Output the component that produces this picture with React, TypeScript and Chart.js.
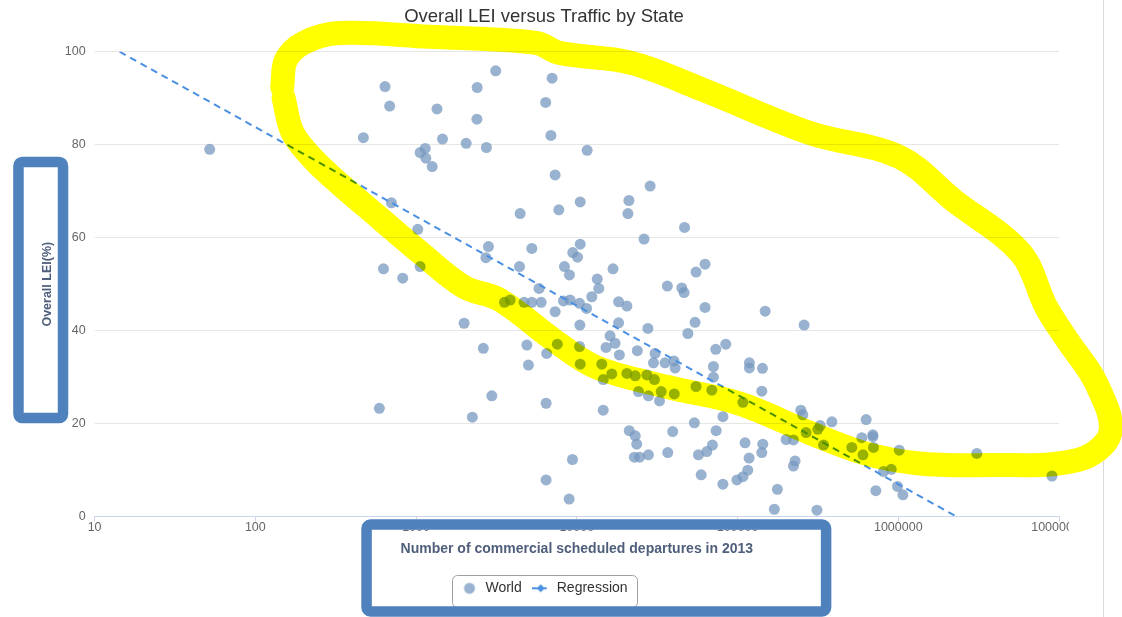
import React, { useEffect, useRef } from "react";
import { Chart, registerables } from "chart.js";

Chart.register(...registerables);

const CHART_TITLE = "Overall LEI versus Traffic by State";
const X_AXIS_TITLE = "Number of commercial scheduled departures in 2013";
const Y_AXIS_TITLE = "Overall LEI(%)";
const SERIES_WORLD = "World";
const SERIES_REGRESSION = "Regression";

const X_TICKS = [10, 100, 1000, 10000, 100000, 1000000, 10000000];
const Y_TICKS = [0, 20, 40, 60, 80, 100];

// World: commercial scheduled departures (2013) per State
const departures = [
  52, 470, 641, 685, 703, 1025, 627, 826, 1060, 1060,
  1140, 1150, 1260, 1350, 1460, 2050, 2400, 2390, 2740, 3130,
  2820, 2720, 4440, 5250, 4400, 5820, 7020, 6400, 6900, 7330,
  7730, 8380, 9000, 9440, 10100, 10500, 10500, 11600, 28600, 21100,
  20800, 26200, 46800, 16800, 13400, 13700, 12400, 62800, 55200, 36600,
  45000, 46500, 3550, 3850, 4700, 5250, 6000, 7330, 8260, 9080,
  10400, 11500, 18200, 20500, 62800, 148600, 1990, 2620, 10450, 18200,
  27700, 54400, 49100, 259500, 16100, 17300, 15200, 23800, 18400, 30700,
  30000, 35400, 40200, 40900, 4890, 5000, 6500, 7570, 10400, 10500,
  14300, 84500, 73200, 70800, 118500, 118500, 142900, 591, 2240, 2960,
  6440, 6440, 9400, 8960, 14600, 14600, 16500, 20500, 23100, 27300,
  30400, 24200, 27900, 32700, 33500, 40400, 55200, 69200, 108000, 81100,
  70800, 141600, 53900, 39500, 73600, 21200, 23100, 23600, 22800, 24600,
  27900, 36800, 57100, 64400, 69800, 111400, 143600, 141600, 118000, 115800,
  108000, 99100, 59400, 81100, 177000, 169500, 247700, 254800, 326600, 386300,
  631000, 593000, 695000, 695000, 701000, 514000, 603000, 342700, 316000, 267000,
  200600, 222700, 228000, 222700, 312000, 725000, 1014000, 989000, 1069000, 809000,
  904000, 3080000, 9040000,
];

// World: Overall LEI (%) per State
const lei = [
  79.0, 81.5, 92.5, 88.3, 67.5, 61.8, 53.3, 51.3, 53.8, 78.3,
  79.2, 77.1, 75.3, 87.7, 81.2, 80.3, 92.3, 85.5, 79.4, 95.9,
  58.1, 55.7, 65.2, 57.7, 53.8, 49.1, 94.3, 89.1, 82.0, 73.5,
  66.0, 53.8, 52.0, 56.8, 55.8, 58.6, 67.7, 78.8, 71.1, 68.0,
  65.2, 59.7, 62.2, 53.3, 51.1, 49.1, 47.3, 54.3, 52.6, 49.6,
  49.2, 48.2, 46.1, 46.6, 46.1, 46.1, 46.1, 44.1, 46.4, 46.6,
  45.9, 44.8, 46.2, 45.3, 45.0, 44.2, 41.6, 36.2, 41.2, 41.7,
  40.5, 41.8, 39.4, 41.2, 38.9, 37.3, 36.4, 35.7, 34.8, 35.1,
  33.1, 33.1, 33.5, 32.0, 36.9, 32.6, 35.1, 37.1, 36.6, 32.8,
  32.8, 37.1, 36.0, 32.3, 33.1, 32.0, 31.9, 23.3, 21.4, 26.0,
  24.4, 7.9, 12.3, 3.8, 22.9, 29.5, 30.7, 30.8, 30.3, 30.5,
  29.5, 26.9, 26.0, 24.9, 26.9, 26.4, 28.0, 27.2, 24.6, 21.5,
  30.0, 27.0, 20.2, 18.3, 18.5, 18.5, 17.4, 15.6, 12.8, 12.8,
  13.3, 13.8, 13.3, 14.0, 15.4, 15.9, 15.6, 13.8, 12.6, 10.0,
  8.6, 7.9, 9.0, 7.0, 5.9, 1.6, 22.9, 21.9, 19.6, 20.4,
  20.9, 17.0, 17.6, 17.2, 14.9, 14.9, 13.3, 15.4, 18.8, 18.1,
  16.6, 16.5, 12.0, 10.9, 1.4, 5.6, 14.3, 6.5, 4.7, 9.7,
  10.2, 13.6, 8.75,
];

// Regression line end points
const regressionDepartures = [14.3, 2310000];
const regressionLei = [100, 0];

// Hand-drawn yellow highlight loop, in data coordinates
const highlightDepartures = [
  147, 155, 200, 332, 1200, 5560, 7870, 21800, 61100, 283000,
  1014000, 2200000, 5790000, 8320000, 11250000, 16980000, 20840000, 13180000, 3660000, 1310000,
  610000, 283000, 101600, 36500, 13100, 7180, 3330, 1990, 1070, 585,
  352, 232, 171, 150,
];
const highlightLei = [
  92.4, 98.2, 101.9, 104.0, 103.2, 101.9, 99.7, 97.6, 91.8, 82.5,
  77.4, 68.1, 56.7, 45.1, 38.0, 28.8, 18.0, 12.2, 11.1, 11.5,
  13.7, 18.0, 24.4, 27.9, 32.2, 38.0, 46.6, 49.4, 56.7, 64.4,
  70.9, 76.7, 82.5, 90.0,
];

// Hand-drawn blue frames, in data coordinates
const frameXMin = [3.36, 492];
const frameXMax = [6.36, 355600];
const frameYMin = [21.2, -20.4];
const frameYMax = [76.3, -1.7];

const FONT = "'Liberation Sans', Arial, Helvetica, sans-serif";
const POINT_COLOR = "rgba(119, 152, 191, 0.75)";
const LINE_COLOR = "#4a90e2";
const HIGHLIGHT_COLOR = "#ffff00";
const FRAME_COLOR = "#4f81bd";
const FRAME_WIDTH = 10.5;
const HIGHLIGHT_INDEX = 2;
const CANVAS_W = 1114;
const CANVAS_H = 609;
// original chart container ends here; axis labels beyond it are cut off
const CONTAINER_RIGHT = 1061;

function makeCircleMarker(): HTMLCanvasElement {
  const c = document.createElement("canvas");
  c.width = 18;
  c.height = 14;
  const g = c.getContext("2d")!;
  g.fillStyle = POINT_COLOR;
  g.beginPath();
  g.arc(9, 7, 5.5, 0, Math.PI * 2);
  g.fill();
  return c;
}

function makeLineMarker(): HTMLCanvasElement {
  const c = document.createElement("canvas");
  c.width = 18;
  c.height = 14;
  const g = c.getContext("2d")!;
  g.strokeStyle = LINE_COLOR;
  g.lineWidth = 2;
  g.setLineDash([6, 3]);
  g.beginPath();
  g.moveTo(0, 7);
  g.lineTo(18, 7);
  g.stroke();
  g.setLineDash([]);
  g.fillStyle = LINE_COLOR;
  g.beginPath();
  g.moveTo(9, 3);
  g.lineTo(13, 7);
  g.lineTo(9, 11);
  g.lineTo(5, 7);
  g.closePath();
  g.fill();
  return c;
}

const clipLabelsPlugin = {
  id: "clipLabels",
  beforeDatasetsDraw(chart: any) {
    const xs = chart.scales.x;
    chart.ctx.clearRect(CONTAINER_RIGHT, xs.top + 1, chart.width - CONTAINER_RIGHT, xs.bottom - xs.top);
  },
};

const multiplyPlugin = {
  id: "multiplyHighlight",
  beforeDatasetDraw(chart: any, args: any) {
    if (args.index === HIGHLIGHT_INDEX) {
      chart.ctx.save();
      chart.ctx.globalCompositeOperation = "multiply";
    }
  },
  afterDatasetDraw(chart: any, args: any) {
    if (args.index === HIGHLIGHT_INDEX) {
      chart.ctx.restore();
    }
  },
};

const overlayPlugin = {
  id: "overlayFrames",
  afterDraw(chart: any) {
    const ctx = chart.ctx as CanvasRenderingContext2D;
    const hb = chart.legend && chart.legend.legendHitBoxes;
    if (hb && hb.length) {
      const left = Math.min(...hb.map((h: any) => h.left)) - 8.6;
      const right = Math.max(...hb.map((h: any) => h.left + h.width)) + 9;
      const cy = hb[0].top + hb[0].height / 2;
      ctx.save();
      ctx.strokeStyle = "#a0a0a0";
      ctx.lineWidth = 1;
      ctx.beginPath();
      ctx.roundRect(Math.round(left) + 0.5, Math.round(cy - 13.3) + 0.5, Math.round(right - left), 32, 5);
      ctx.stroke();
      ctx.restore();
    }
    const xs = chart.scales.x;
    const ys = chart.scales.y;
    ctx.save();
    ctx.strokeStyle = FRAME_COLOR;
    ctx.lineWidth = FRAME_WIDTH;
    ctx.lineJoin = "round";
    frameXMin.forEach((_, i) => {
      const x1 = xs.getPixelForValue(frameXMin[i]);
      const x2 = xs.getPixelForValue(frameXMax[i]);
      const y1 = ys.getPixelForValue(frameYMax[i]);
      const y2 = ys.getPixelForValue(frameYMin[i]);
      ctx.beginPath();
      ctx.roundRect(x1, y1, x2 - x1, y2 - y1, 4);
      ctx.stroke();
    });
    ctx.restore();
  },
};

export default function App() {
  const ref = useRef<HTMLCanvasElement | null>(null);

  useEffect(() => {
    const canvas = ref.current;
    if (!canvas) return;
    const markers = [makeCircleMarker(), makeLineMarker()];

    const chart = new Chart(canvas, {
      type: "scatter",
      data: {
        datasets: [
          {
            label: SERIES_WORLD,
            data: departures.map((d, i) => ({ x: d, y: lei[i] })),
            backgroundColor: POINT_COLOR,
            borderWidth: 0,
            pointRadius: 5.5,
            pointHoverRadius: 5.5,
            order: 1,
          },
          {
            label: SERIES_REGRESSION,
            data: regressionDepartures.map((d, i) => ({ x: d, y: regressionLei[i] })),
            showLine: true,
            borderColor: LINE_COLOR,
            backgroundColor: LINE_COLOR,
            borderWidth: 2,
            borderDash: [7, 5],
            pointRadius: 0,
            pointHoverRadius: 0,
            fill: false,
            order: 0,
          },
          {
            label: "highlight",
            data: highlightDepartures.map((d, i) => ({ x: d, y: highlightLei[i] })),
            showLine: true,
            borderColor: HIGHLIGHT_COLOR,
            borderWidth: 24,
            tension: 0.35,
            capBezierPoints: false,
            borderCapStyle: "round",
            borderJoinStyle: "round",
            pointRadius: 0,
            pointHoverRadius: 0,
            fill: false,
            clip: false,
            order: -1,
          } as any,
        ],
      },
      options: {
        responsive: false,
        animation: false,
        events: [],
        layout: { padding: { left: 21, right: 63, top: 0, bottom: 11.7 } },
        plugins: {
          title: {
            display: true,
            text: CHART_TITLE,
            color: "#333333",
            font: { family: FONT, size: 18.5, weight: "normal", lineHeight: 1 },
            padding: { top: 0, bottom: 25.2 },
          },
          legend: {
            display: true,
            position: "bottom",
            labels: {
              usePointStyle: true,
              pointStyleWidth: 18,
              padding: 10,
              color: "#333333",
              font: { family: FONT, size: 14, lineHeight: 1 },
              sort: (a: any, b: any) => a.datasetIndex - b.datasetIndex,
              generateLabels: (ch: any) => {
                const items = (Chart.defaults.plugins.legend.labels as any).generateLabels(ch);
                return items
                  .filter((it: any) => it.datasetIndex !== HIGHLIGHT_INDEX)
                  .map((it: any) => ({ ...it, pointStyle: markers[it.datasetIndex] }));
              },
            },
          },
          tooltip: { enabled: false },
        },
        scales: {
          x: {
            type: "logarithmic",
            min: X_TICKS[0],
            max: X_TICKS[X_TICKS.length - 1],
            afterBuildTicks: (scale: any) => {
              scale.ticks = X_TICKS.map((v) => ({ value: v }));
            },
            afterFit: (scale: any) => {
              scale.height = 54.6;
              scale.paddingLeft = 0;
              scale.paddingRight = 0;
            },
            ticks: {
              autoSkip: false,
              maxRotation: 0,
              minRotation: 0,
              padding: 0,
              color: "#666666",
              font: { family: FONT, size: 12.5, lineHeight: 1 },
              callback: (v: any) => String(v),
            },
            grid: {
              display: true,
              drawOnChartArea: false,
              drawTicks: true,
              tickLength: 5,
              color: "#ccd6eb",
            },
            border: { display: true, color: "#ccd6eb", width: 1 },
            title: {
              display: true,
              text: X_AXIS_TITLE,
              color: "#4f5e7b",
              font: { family: FONT, size: 14, weight: "bold", lineHeight: 1 },
              padding: { top: 0, bottom: 15 },
            },
          },
          y: {
            type: "linear",
            min: Y_TICKS[0],
            max: Y_TICKS[Y_TICKS.length - 1],
            afterBuildTicks: (scale: any) => {
              scale.ticks = Y_TICKS.map((v) => ({ value: v }));
            },
            afterFit: (scale: any) => {
              scale.width = 65.6;
            },
            ticks: {
              padding: 9,
              color: "#666666",
              font: { family: FONT, size: 12.5, lineHeight: 1 },
            },
            grid: {
              color: "#e6e6e6",
              lineWidth: 1,
              drawTicks: false,
            },
            border: { display: false },
            title: {
              display: true,
              text: Y_AXIS_TITLE,
              color: "#4f5e7b",
              font: { family: FONT, size: 12.5, weight: "bold", lineHeight: 1 },
              padding: { top: 12.75, bottom: 0 },
            },
          },
        },
      },
      plugins: [clipLabelsPlugin, multiplyPlugin, overlayPlugin],
    } as any);

    return () => chart.destroy();
  }, []);

  return (
    <div>
      <div style={{ position: "absolute", left: 1103, top: 0, width: 1, height: 617, background: "#dcdcdc" }} />
      <div style={{ position: "absolute", left: 8, top: 8, width: CANVAS_W, height: CANVAS_H }}>
        <canvas ref={ref} width={CANVAS_W} height={CANVAS_H} style={{ display: "block" }} />
      </div>
    </div>
  );
}
